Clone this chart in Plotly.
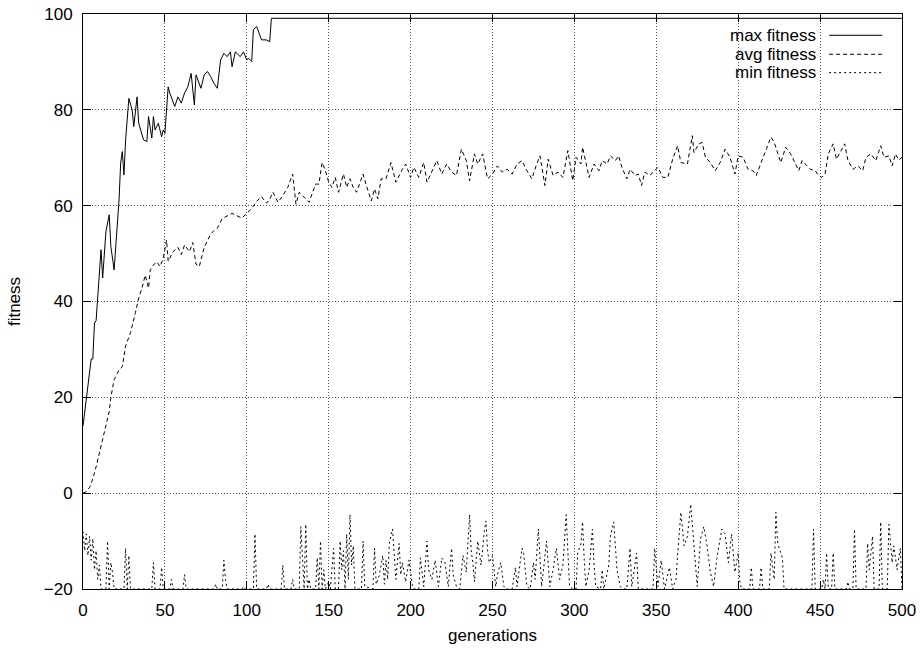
import plotly.graph_objects as go

# ---------------- data ----------------
max_gen = [0, 2, 5, 6, 7, 8, 9, 11, 12, 14, 16, 17, 19, 22, 23, 24, 25, 26, 28, 30, 31, 33, 34,
           37, 39, 40, 42, 43, 44, 46, 48, 49, 50, 52, 53, 56, 58, 60, 62, 64, 66, 67, 68, 69,
           72, 74, 76, 78, 80, 82, 84, 86, 88, 90, 91, 93, 96, 98, 100, 101, 103, 104, 106,
           109, 112, 114, 115, 500]
max_val = [14, 20, 28, 28, 35.5, 36, 40.3, 50.8, 44.9, 54.6, 58.1, 51.5, 46.6, 61.2, 68.9, 71.3,
           66.4, 73.7, 82.4, 80.0, 76.5, 82.7, 77.2, 73.7, 73.4, 78.6, 74.1, 78.6, 75.8, 77.2,
           74.4, 75.8, 75.1, 84.8, 83.5, 80.7, 82.7, 81.4, 83.5, 84.8, 87.6, 84.1, 81.0, 87.3,
           84.5, 87.3, 88.0, 86.9, 85.5, 84.5, 90.4, 91.8, 91.1, 92.1, 89.0, 92.1, 91.1, 92.1,
           90.4, 90.8, 90.1, 96.7, 97.4, 94.6, 94.6, 94.2, 99.1, 99.1]

avg_gen = [0, 2, 4, 6, 8, 10, 12, 14, 16, 17, 19, 22, 24, 26, 29, 32, 34, 36, 38, 40, 41, 43,
           45, 47, 49, 51, 52, 55, 58, 60, 62, 65, 67, 69, 71, 74, 76, 78, 80, 82, 85, 88, 91,
           94, 97, 100, 103, 106, 109, 112, 114, 116, 119, 122, 125, 128, 130, 132, 135, 138,
           142, 144, 146, 148, 150, 152, 154, 156, 159, 161, 163, 165, 167, 169, 171, 173, 176,
           178, 180, 182, 185, 188, 191, 195, 197, 200, 202, 205, 208, 210, 213, 216, 219, 222,
           225, 228, 231, 234, 236, 239, 241, 244, 247, 250, 253, 256, 259, 262, 265, 268, 271,
           274, 277, 279, 282, 284, 287, 290, 293, 296, 299, 301, 304, 305, 309, 312, 315, 317,
           320, 322, 325, 327, 329, 332, 334, 337, 339, 341, 343, 346, 349, 351, 354, 357, 360,
           363, 365, 369, 372, 373, 376, 378, 380, 383, 386, 389, 392, 395, 398, 400, 403, 406,
           409, 411, 414, 417, 420, 422, 426, 429, 432, 435, 437, 439, 441, 444, 447, 449, 451,
           453, 455, 458, 460, 462, 465, 467, 470, 473, 476, 478, 481, 484, 487, 489, 492, 494,
           496, 498, 500]
avg_val = [0, 0.3, 1.2, 3, 5.5, 8.5, 11, 14, 17, 20, 23.7, 25.7, 26.4, 30.7, 33.5, 37.7, 40.7,
           42.8, 45.5, 42.8, 46.5, 47.6, 48.3, 47.3, 49, 52.8, 48.4, 50.4, 51.3, 49.8, 51.8,
           50.4, 52.3, 47.8, 47.3, 51.3, 52.8, 54.1, 54.8, 55.3, 57.3, 57.9, 58.4, 57.9, 57.4,
           58.4, 59.4, 60.9, 61.9, 60.5, 61.4, 62.8, 60.7, 62.1, 63.8, 66.6, 60.3, 62.8, 61.7,
           60.7, 64.5, 64.5, 69.0, 67.3, 64.9, 63.8, 65.9, 62.8, 66.6, 63.8, 65.6, 63.8, 62.8,
           64.9, 66.6, 64.2, 61.0, 63.5, 61.4, 65.6, 65.6, 69.0, 64.9, 67.6, 68.7, 65.9, 68.0,
           65.9, 69.0, 64.9, 67.3, 69.4, 66.6, 68.7, 67.0, 66.3, 71.8, 69.4, 65.2, 70.8, 68.7,
           70.8, 65.6, 66.6, 68.3, 67.0, 67.6, 66.6, 68.7, 69.4, 67.3, 65.6, 68.7, 70.4, 64.2,
           69.7, 66.3, 67.0, 65.9, 71.5, 65.2, 70.1, 68.7, 72.2, 65.9, 68.7, 67.3, 69.4, 68.7,
           70.4, 69.4, 70.4, 68.0, 65.6, 67.6, 66.3, 66.6, 64.2, 67.0, 66.3, 67.3, 68.0, 65.9,
           65.9, 69.7, 72.5, 69.0, 68.7, 74.6, 71.1, 72.9, 73.2, 70.1, 69.0, 67.3, 69.0, 71.8,
           70.1, 66.6, 70.4, 70.1, 67.6, 67.3, 66.3, 69.0, 71.8, 74.3, 73.2, 69.0, 72.2, 70.8,
           68.7, 67.3, 69.4, 68.7, 67.6, 67.3, 66.3, 65.9, 66.6, 70.8, 72.9, 69.7, 71.1, 72.9,
           69.4, 67.6, 68.3, 67.3, 70.1, 70.8, 69.4, 72.5, 70.1, 70.4, 68.3, 70.8, 69.5, 70.1]

min_points = [
    (0, -8), (1, -12), (2, -8.5), (3, -13), (4, -9), (5, -14), (6, -9.5), (7, -16), (8, -12),
    (9, -18), (10, -15), (11, -20), (14, -20), (15, -10), (16, -20), (17, -14.5), (18, -16.5),
    (19, -20), (25, -20), (26, -11.5), (27, -20), (28, -13), (29, -20), (42, -20), (43, -14.5),
    (44, -20), (47, -20), (48, -15.5), (49, -20), (53, -20), (54, -18), (55, -20), (61, -20),
    (62, -17), (63, -20), (80, -20), (81, -19), (82, -20), (85, -20), (86, -14), (87, -18),
    (88, -20), (97, -20), (98, -19.5), (99, -20), (104, -20), (105, -8.5), (106, -20),
    (112, -20), (113, -19), (114, -20), (121, -20), (122, -15), (123, -20), (127, -20),
    (128, -18), (129, -20), (132, -20), (133, -7), (134, -14), (135, -20), (136, -6.5),
    (137, -20), (138, -18), (139, -20), (142, -20), (143, -13.5), (144, -20), (145, -10),
    (146, -20), (147, -16), (148, -20), (150, -18.5), (151, -20), (153, -11.5), (154, -20),
    (156, -20), (157, -10), (158, -16), (159, -12), (160, -20), (161, -8.5), (162, -18),
    (163, -4.5), (164, -15), (165, -11), (166, -20), (170, -20), (171, -10), (172, -19.5),
    (177, -20), (178, -11.5), (179, -19), (181, -17), (183, -13), (184, -19), (185, -14),
    (186, -18), (187, -10.5), (189, -7.5), (190, -14), (191, -18), (193, -10.5), (194, -17),
    (195, -14.5), (197, -18.5), (199, -14), (201, -19), (202, -20), (205, -20), (206, -13.5),
    (208, -19.5), (210, -10), (211, -16), (213, -18), (215, -14), (217, -19.5), (219, -13.5),
    (221, -14.5), (223, -19.5), (225, -11.5), (226, -17), (228, -19.5), (230, -20),
    (232, -13), (234, -16.5), (236, -4.5), (237, -12), (238, -14.5), (239, -18.5), (241, -10),
    (243, -15), (245, -8), (246, -5.8), (247, -12), (248, -14.5), (250, -13), (252, -19.5),
    (253, -17), (255, -14.5), (257, -19.5), (258, -20), (262, -20), (264, -15.5), (265, -19.5),
    (268, -11.5), (269, -12.5), (271, -19.5), (273, -20), (275, -14.5), (276, -18), (278, -7.5),
    (280, -19.5), (283, -10), (285, -19.5), (287, -16), (289, -11.5), (291, -18), (293, -15),
    (295, -4.5), (297, -19.5), (299, -20), (301, -20), (302, -12.5), (304, -10.5), (305, -6),
    (306, -14), (307, -19.5), (309, -16), (311, -7.5), (312, -15), (313, -19.5), (316, -20),
    (317, -16), (318, -20), (321, -15), (322, -9), (324, -6), (326, -16), (328, -19.5),
    (330, -20), (332, -20), (334, -11.5), (335, -19.5), (338, -12.5), (339, -20), (348, -20),
    (349, -11.5), (351, -19.5), (353, -14), (355, -20), (358, -15.5), (360, -20), (362, -18),
    (363, -13), (365, -4), (367, -11), (369, -9), (371, -2.3), (373, -11), (375, -19.5),
    (377, -9.5), (379, -7), (381, -11), (383, -16.5), (385, -19.5), (387, -13.5), (390, -7.5),
    (392, -8.5), (394, -14.5), (396, -8.5), (398, -16.5), (400, -12.5), (401, -18.5),
    (402, -20), (407, -20), (408, -15.5), (409, -20), (413, -20), (414, -15.5), (415, -20),
    (419, -20), (420, -12.5), (422, -18), (423, -4), (424, -10), (425, -11.5), (427, -13.5),
    (428, -20), (445, -20), (446, -7.5), (447, -20), (451, -20), (452, -18), (453, -20),
    (454, -12.5), (455, -20), (457, -20), (458, -12.5), (459, -20), (466, -20), (467, -18.5),
    (468, -20), (470, -20), (471, -7.5), (472, -20), (478, -20), (479, -10.5), (480, -16),
    (482, -9), (483, -20), (486, -20), (487, -6), (488, -20), (491, -20), (492, -6.5),
    (494, -14.5), (495, -11), (497, -16), (498, -13.5), (499, -11.5), (500, -20),
]
min_gen = [p[0] for p in min_points]
min_val = [p[1] for p in min_points]

x_ticks = [0, 50, 100, 150, 200, 250, 300, 350, 400, 450, 500]
y_ticks = [-20, 0, 20, 40, 60, 80, 100]
series_names = ["max fitness", "avg fitness", "min fitness"]

FONT = "Liberation Sans, Arial, Helvetica, sans-serif"
dashes = ["solid", "4px,3px", "2px,3px"]

fig = go.Figure()
for name, xs, ys, d in zip(series_names, [max_gen, avg_gen, min_gen],
                           [max_val, avg_val, min_val], dashes):
    fig.add_trace(go.Scatter(x=xs, y=ys, mode="lines", name=name,
                             line=dict(color="black", width=1, dash=d),
                             showlegend=False))

# gnuplot style key: opaque box hiding the grid, text right-aligned, sample line to the right
fig.add_shape(type="rect", xref="paper", yref="paper", x0=0.78, x1=0.999, y0=0.878, y1=0.985,
              fillcolor="white", line=dict(width=0), layer="between")
key_y = [0.963, 0.930, 0.898]
for name, ky, d in zip(series_names, key_y, dashes):
    fig.add_annotation(xref="paper", yref="paper", x=0.897, y=ky, text=name,
                       showarrow=False, xanchor="right", yanchor="middle",
                       font=dict(family=FONT, size=17, color="black"))
    fig.add_shape(type="line", xref="paper", yref="paper", x0=0.911, x1=0.976,
                  y0=ky, y1=ky, line=dict(color="black", width=1, dash=d))

axis_common = dict(
    showline=True, linecolor="black", linewidth=1, mirror="allticks",
    ticks="inside", ticklen=8, tickcolor="black", tickwidth=1,
    showgrid=True, gridcolor="#555", gridwidth=1, griddash="1px,2px",
    zeroline=False, tickfont=dict(family=FONT, size=17, color="black"),
)

fig.update_xaxes(range=[0, 500], tickvals=x_ticks, ticklabelstandoff=6,
                 title=dict(text="generations", standoff=9,
                            font=dict(family=FONT, size=17, color="black")),
                 **axis_common)
fig.update_yaxes(range=[-20, 100], tickvals=y_ticks, ticklabelstandoff=6,
                 title=dict(text="fitness", standoff=18,
                            font=dict(family=FONT, size=17, color="black")),
                 **axis_common)

fig.update_layout(
    width=921, height=649,
    margin=dict(l=83, r=19, t=14, b=60, autoexpand=False),
    paper_bgcolor="white", plot_bgcolor="white",
    font=dict(family=FONT, size=17, color="black"),
)

fig.write_html("out.html", config={"displayModeBar": False},
               post_script="document.body.style.margin='0';")
